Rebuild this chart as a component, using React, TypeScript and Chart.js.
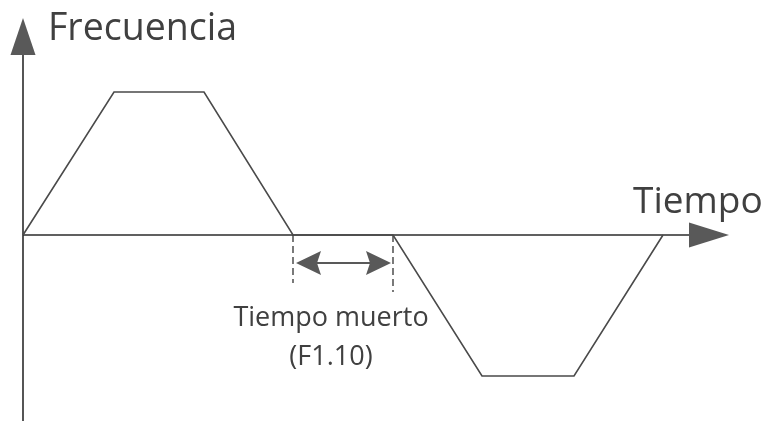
import React, { useEffect, useRef } from "react";
import { Chart, registerables } from "chart.js";

Chart.register(...registerables);

// Time (x) and frequency (y) values of the waveform
const timePoints = [0, 9.1, 18.1, 27, 37, 45.9, 55.1, 64];
const freqValues = [0, 50, 50, 0, 0, -49.3, -49.3, 0];

// Dead time interval (F1.10)
const deadTime = [27, 37];

// Axis extents
const xRange = [-2.3, 74.1];
const yRange = [-65.03, 82.17];
const xArrow = [66.6, 70.6]; // arrow base, tip on time axis
const yArrow = [62.9, 75.9]; // arrow base, tip on frequency axis

const yLabel = "Frecuencia";
const xLabel = "Tiempo";
const deadLabel = ["Tiempo muerto", "(F1.10)"];

const FONT = '"Open Sans", "DejaVu Sans", sans-serif';

const diagramPlugin = {
  id: "diagram",
  beforeDatasetsDraw(chart: any) {
    const { ctx } = chart;
    const xs = chart.scales.x;
    const ys = chart.scales.y;
    const x0 = xs.getPixelForValue(0);
    const y0 = ys.getPixelForValue(0);
    ctx.save();
    // vertical axis
    ctx.strokeStyle = "#2b2b2b";
    ctx.lineWidth = 1.6;
    ctx.beginPath();
    ctx.moveTo(x0, ys.getPixelForValue(yRange[0]));
    ctx.lineTo(x0, ys.getPixelForValue(yArrow[0]));
    ctx.stroke();
    // horizontal axis
    ctx.beginPath();
    ctx.moveTo(x0, y0);
    ctx.lineTo(xs.getPixelForValue(xArrow[0]), y0);
    ctx.stroke();
    // arrowheads
    ctx.fillStyle = "#595959";
    const yb = ys.getPixelForValue(yArrow[0]);
    const yt = ys.getPixelForValue(yArrow[1]);
    ctx.beginPath();
    ctx.moveTo(x0, yt);
    ctx.lineTo(x0 - 12.5, yb);
    ctx.lineTo(x0 + 12.5, yb);
    ctx.closePath();
    ctx.fill();
    const xb = xs.getPixelForValue(xArrow[0]);
    const xt = xs.getPixelForValue(xArrow[1]);
    ctx.beginPath();
    ctx.moveTo(xt, y0);
    ctx.lineTo(xb, y0 - 12.5);
    ctx.lineTo(xb, y0 + 12.5);
    ctx.closePath();
    ctx.fill();

    // dashed dead-time markers
    const d1 = xs.getPixelForValue(deadTime[0]);
    const d2 = xs.getPixelForValue(deadTime[1]);
    ctx.strokeStyle = "#333";
    ctx.lineWidth = 1.3;
    ctx.setLineDash([7, 4]);
    ctx.beginPath();
    ctx.moveTo(d1, y0);
    ctx.lineTo(d1, y0 + 48);
    ctx.moveTo(d2, y0);
    ctx.lineTo(d2, y0 + 57);
    ctx.stroke();
    ctx.setLineDash([]);

    // double arrow
    const ya = y0 + 28;
    const l = d1 + 3;
    const r = d2 - 2;
    ctx.strokeStyle = "#595959";
    ctx.lineWidth = 1.8;
    ctx.beginPath();
    ctx.moveTo(l + 15, ya);
    ctx.lineTo(r - 15, ya);
    ctx.stroke();
    ctx.beginPath();
    ctx.moveTo(l, ya);
    ctx.lineTo(l + 25, ya - 12);
    ctx.lineTo(l + 21, ya);
    ctx.lineTo(l + 25, ya + 12);
    ctx.closePath();
    ctx.fill();
    ctx.beginPath();
    ctx.moveTo(r, ya);
    ctx.lineTo(r - 25, ya - 12);
    ctx.lineTo(r - 21, ya);
    ctx.lineTo(r - 25, ya + 12);
    ctx.closePath();
    ctx.fill();

    // text
    ctx.fillStyle = "#404040";
    ctx.textBaseline = "alphabetic";
    ctx.textAlign = "left";
    ctx.font = `37.5px ${FONT}`;
    ctx.fillText(yLabel, x0 + 25, 40);
    ctx.font = `37px ${FONT}`;
    ctx.fillText(xLabel, xs.getPixelForValue(61), y0 - 22);
    ctx.textAlign = "center";
    ctx.font = `27px ${FONT}`;
    const cx = (d1 + d2) / 2 - 12;
    ctx.fillText(deadLabel[0], cx, y0 + 91);
    ctx.fillText(deadLabel[1], cx, y0 + 130);
    ctx.restore();
  },
};

export default function App() {
  const ref = useRef<HTMLCanvasElement | null>(null);
  useEffect(() => {
    if (!ref.current) return;
    const chart = new Chart(ref.current, {
      type: "line",
      data: {
        datasets: [
          {
            data: timePoints.map((t, i) => ({ x: t, y: freqValues[i] })),
            borderColor: "#4a4a4a",
            borderWidth: 1.6,
            pointRadius: 0,
            tension: 0,
            fill: false,
          },
        ],
      },
      options: {
        animation: false,
        responsive: false,
        events: [],
        layout: { padding: 0 },
        plugins: { legend: { display: false }, tooltip: { enabled: false } },
        scales: {
          x: { type: "linear", min: xRange[0], max: xRange[1], display: false },
          y: { type: "linear", min: yRange[0], max: yRange[1], display: false },
        },
      },
      plugins: [diagramPlugin],
    });
    return () => chart.destroy();
  }, []);
  return (
    <div style={{ position: "absolute", left: 0, top: 0, width: 764, height: 421, background: "#fff" }}>
      <canvas ref={ref} width={764} height={421} style={{ display: "block" }} />
    </div>
  );
}
